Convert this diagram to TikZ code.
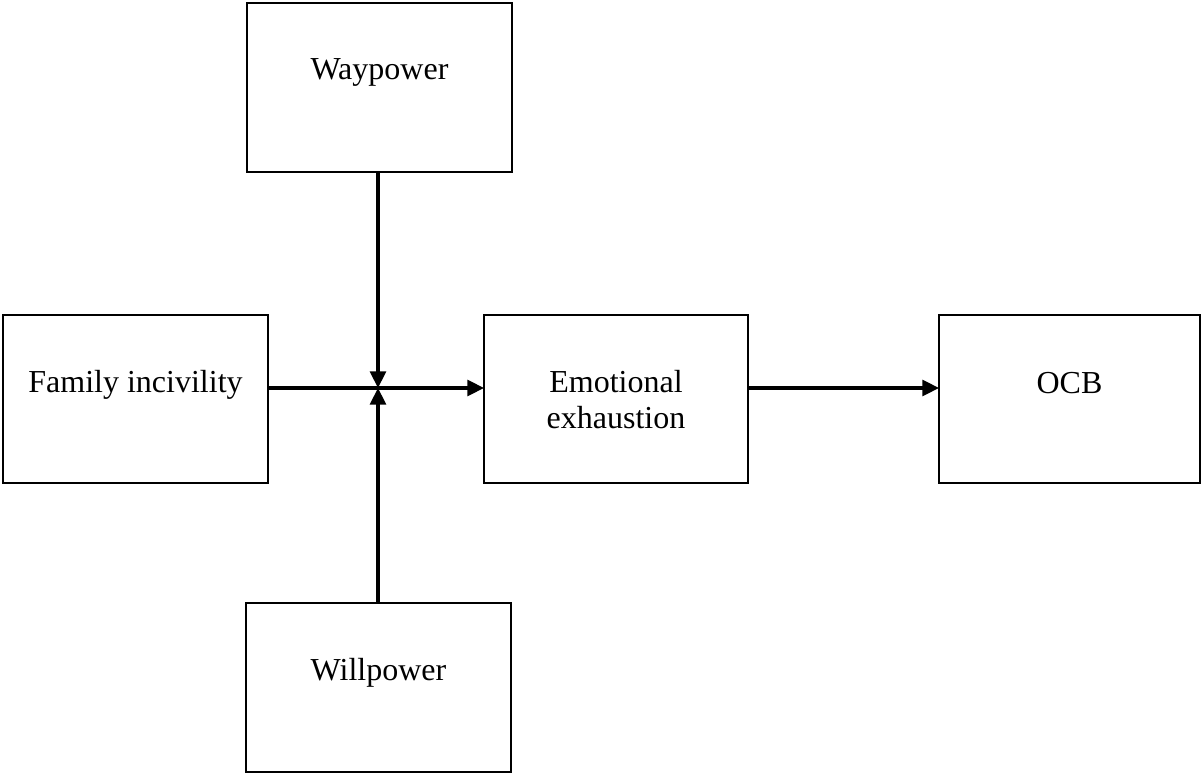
\documentclass[tikz,border=0pt]{standalone}
\usepackage{fontspec}
\setmainfont{Liberation Serif}
\usetikzlibrary{arrows.meta}
\begin{document}
\begin{tikzpicture}[x=0.75pt,y=-0.75pt,
  box/.style={draw=black, line width=1.7pt, inner sep=0pt, outer sep=0pt, rectangle},
  lbl/.style={font=\fontsize{24pt}{27pt}\selectfont, inner sep=0pt, anchor=base, align=center},
  conn/.style={line width=2.3pt, -{Triangle[length=12.5pt,width=12pt]}}]
\useasboundingbox (0,0) rectangle (1202,773);
% boxes
\node[box, minimum width=198.75pt, minimum height=126pt] (fam) at (135.5,399) {};
\node[box, minimum width=198.75pt, minimum height=126.75pt] (way) at (379.5,87.5) {};
\node[box, minimum width=198.75pt, minimum height=126.75pt] (will) at (378.5,687.5) {};
\node[box, minimum width=198pt, minimum height=126pt] (ee) at (616,399) {};
\node[box, minimum width=195.75pt, minimum height=126pt] (ocb) at (1069.5,399) {};
% labels
\node[lbl] (famt) at (135.5,392) {Family incivility};
\node[lbl] (wayt) at (379.5,80) {Waypower};
\node[lbl] (willt) at (378.5,680) {Willpower};
\node[lbl] (eet) at (616,428) {Emotional\\exhaustion};
\node[lbl] (ocbt) at (1069.5,393) {OCB};
% junction
\coordinate (j) at (378,388);
% connectors
\draw[conn] (fam.east |- j) -- (ee.west |- j);
\draw[conn] (way.south -| j) -- (j);
\draw[conn] (will.north -| j) -- (j);
\draw[conn] (ee.east |- j) -- (ocb.west |- j);
\end{tikzpicture}
\end{document}
